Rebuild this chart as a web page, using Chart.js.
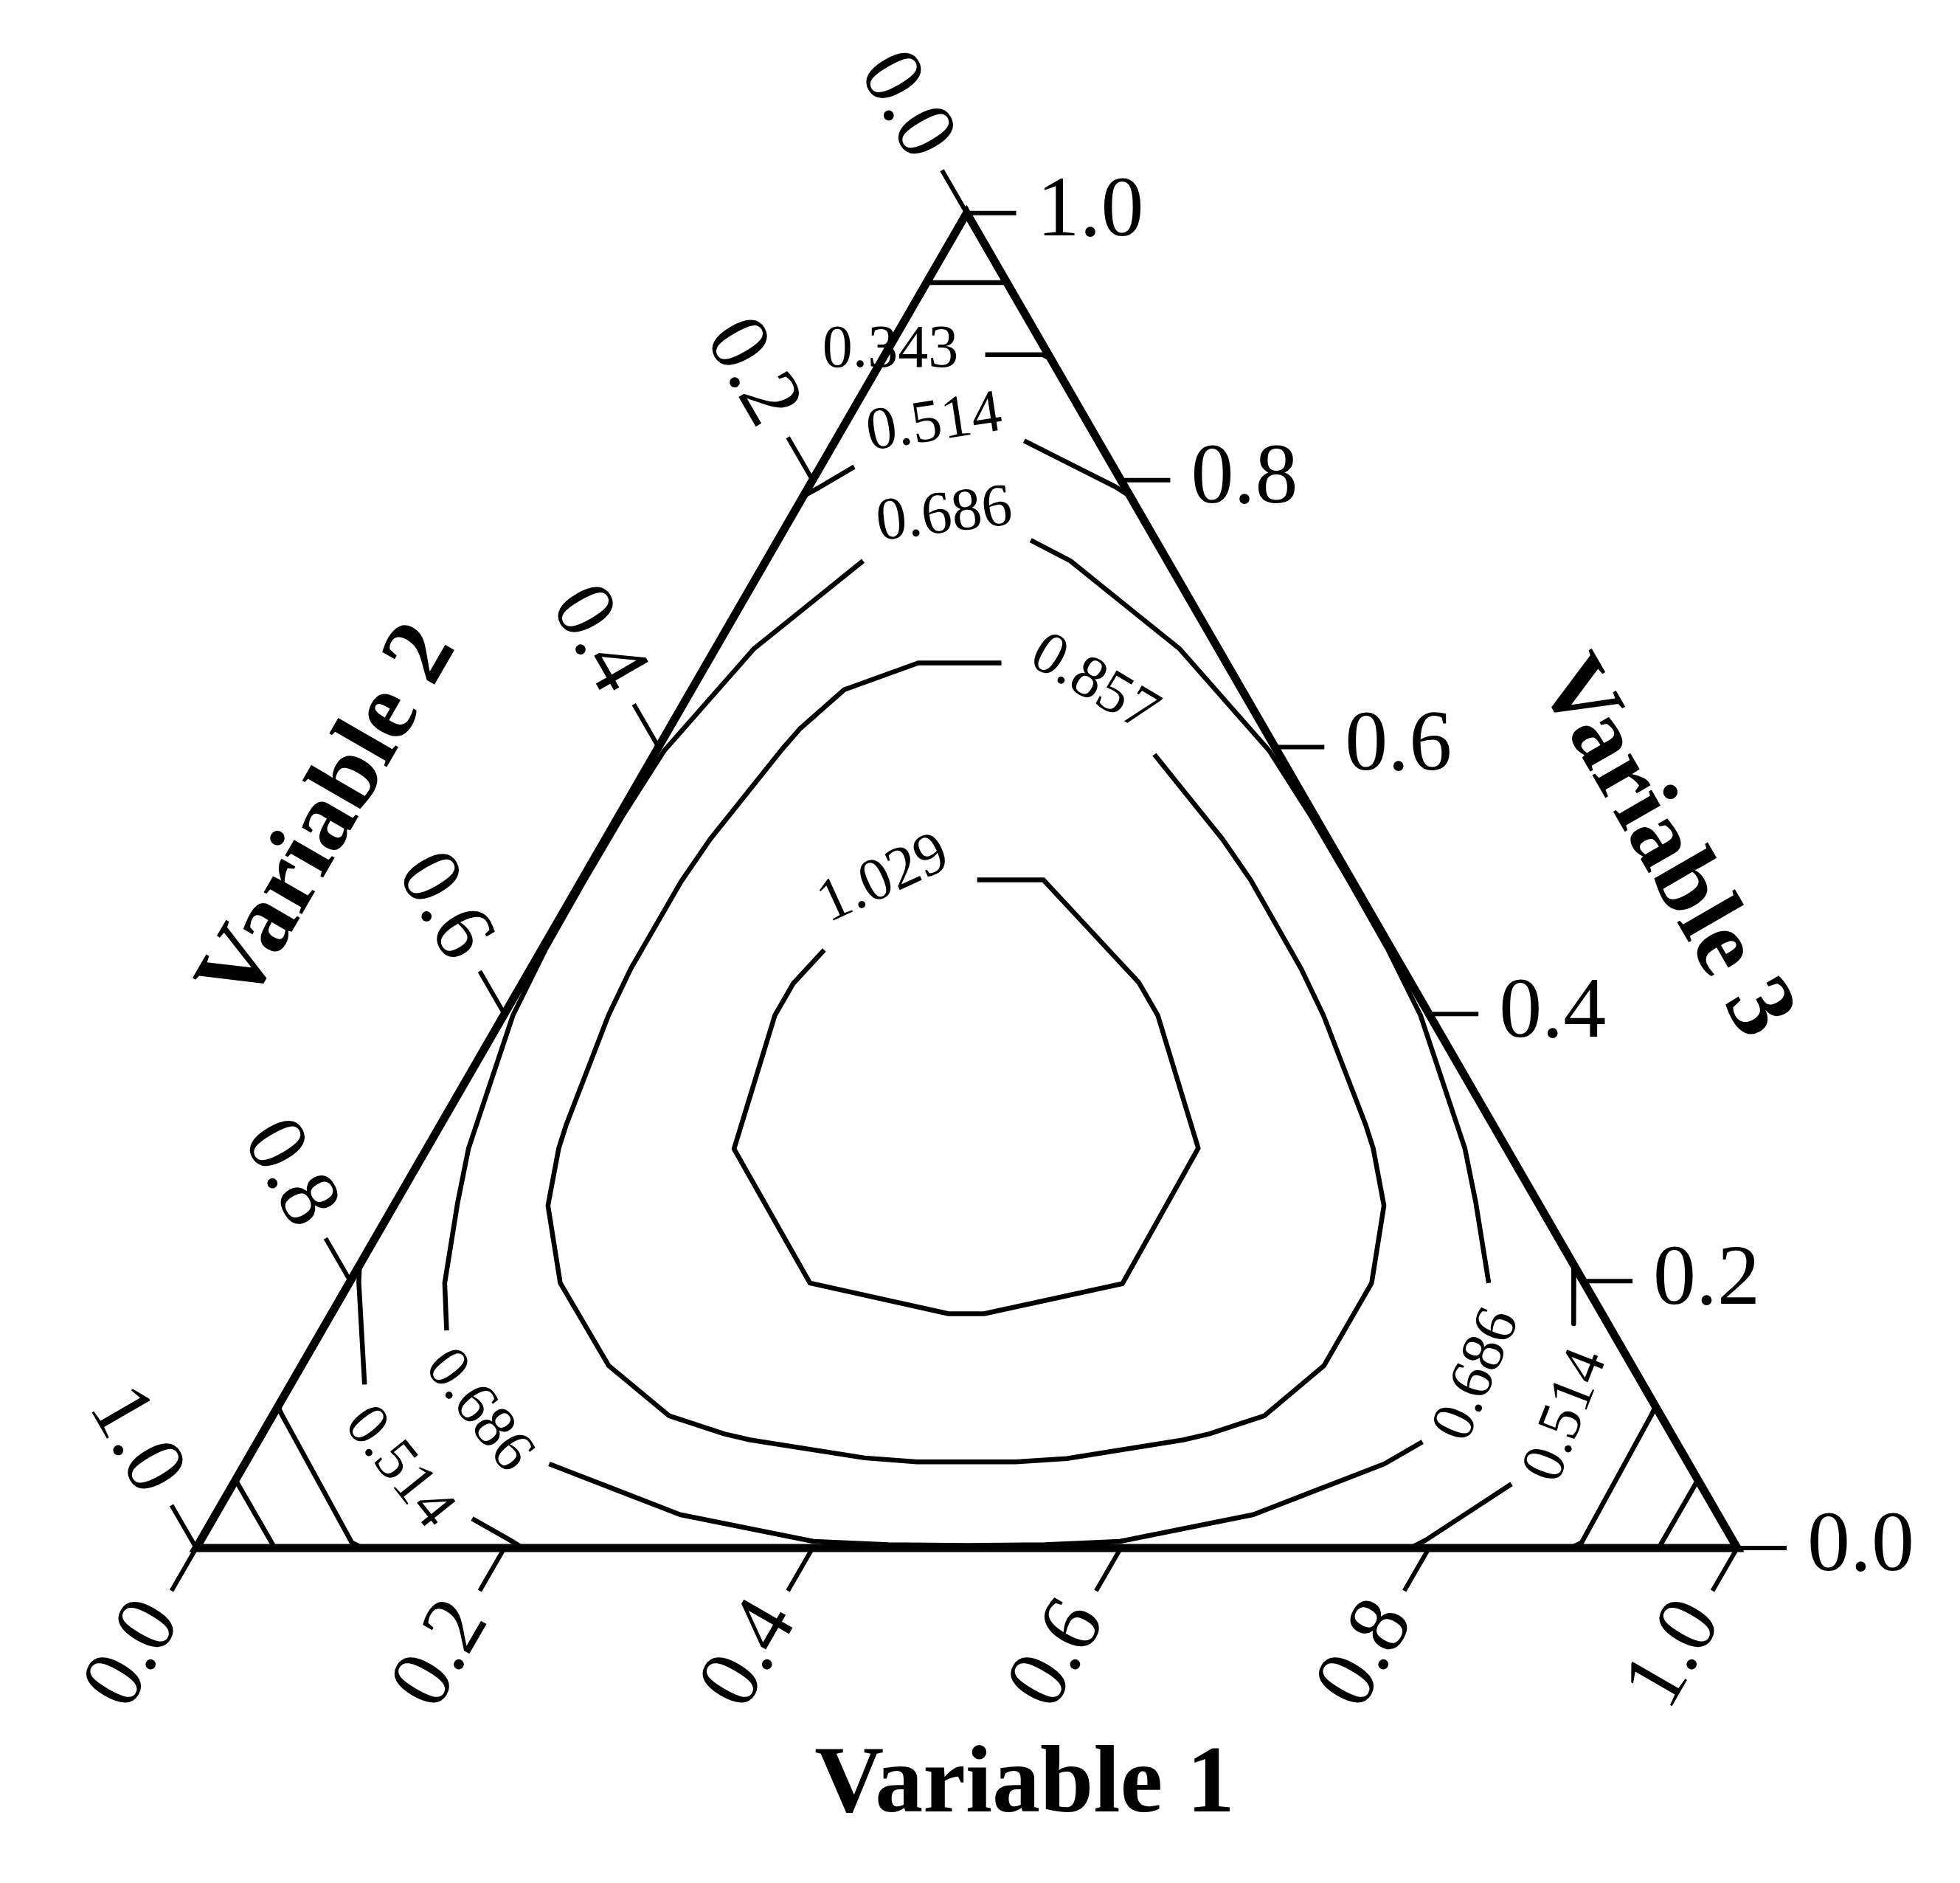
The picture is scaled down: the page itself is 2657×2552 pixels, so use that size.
<!DOCTYPE html>
<html>
<head>
<meta charset="utf-8">
<script src="https://cdn.jsdelivr.net/npm/chart.js@4.4.1/dist/chart.umd.min.js"></script>
<style>html,body{margin:0;padding:0;background:#fff}</style>
</head>
<body>
<canvas id="c" width="2657" height="2552" style="display:block;width:2657px;height:2552px"></canvas>
<script>
// ---------- DATA : ternary compositions [Variable 1, Variable 2, Variable 3] ----------
const tickValues = [0.0, 0.2, 0.4, 0.6, 0.8, 1.0];
const tickLabels = ['0.0', '0.2', '0.4', '0.6', '0.8', '1.0'];
const axisTitles = ['Variable 1', 'Variable 2', 'Variable 3'];
const triangleCorners = [[0, 1, 0], [1, 0, 0], [0, 0, 1]];
const contourLevels = ['0.171', '0.343', '0.514', '0.686', '0.857', '1.029'];

const contour0171 = [
  [[0, 0.052, 0.948], [0.052, 0, 0.948]],
  [[0, 0.949, 0.051], [0.051, 0.949, 0]],
  [[0.949, 0, 0.051], [0.949, 0.051, 0]]
];
const contour0343 = [
  [[0.065, 0.041, 0.894], [0.102, 0.004, 0.894], [0.109, 0, 0.891]],
  [[0, 0.894, 0.106], [0.006, 0.8945, 0.0995], [0.099, 0.897, 0.004], [0.108, 0.892, 0]],
  [[0.894, 0, 0.106], [0.8945, 0.006, 0.0995], [0.897, 0.099, 0.004], [0.892, 0.108, 0]]
];
const contour0514 = [
  [[0, 0.212, 0.788], [0.006, 0.2005, 0.7935], [0.022, 0.168, 0.810]],
  [[0.1225, 0.048, 0.8295], [0.199, 0.006, 0.795], [0.212, 0, 0.788]],
  [[0, 0.788, 0.212], [0.006, 0.795, 0.199], [0.048, 0.8295, 0.1225]],
  [[0.168, 0.810, 0.022], [0.2005, 0.7935, 0.006], [0.212, 0.788, 0]],
  [[0.788, 0, 0.212], [0.7935, 0.006, 0.2005], [0.810, 0.022, 0.168]],
  [[0.8295, 0.1225, 0.048], [0.795, 0.199, 0.006], [0.788, 0.212, 0]]
];
const contour0686 = [
  [[0.063, 0.1975, 0.7395], [0.040, 0.2605, 0.6995], [0.025, 0.3015, 0.6735], [0.005, 0.398, 0.597],
   [0.0025, 0.448, 0.5495], [0.002, 0.499, 0.499], [0.0025, 0.5495, 0.448], [0.006, 0.595, 0.399],
   [0.027, 0.6735, 0.2995], [0.040, 0.7005, 0.2595], [0.062, 0.7395, 0.1985], [0.081, 0.756, 0.163]],
  [[0.164, 0.081, 0.755], [0.1975, 0.063, 0.7395], [0.2605, 0.040, 0.6995], [0.3015, 0.025, 0.6735],
   [0.398, 0.005, 0.597], [0.448, 0.0025, 0.5495], [0.499, 0.002, 0.499], [0.5495, 0.0025, 0.448],
   [0.595, 0.006, 0.399], [0.6735, 0.027, 0.2995], [0.7005, 0.040, 0.2595], [0.7395, 0.062, 0.1985]],
  [[0.756, 0.1645, 0.0795], [0.7395, 0.1975, 0.063], [0.6995, 0.2605, 0.040], [0.6735, 0.3015, 0.025],
   [0.597, 0.398, 0.005], [0.5495, 0.448, 0.0025], [0.499, 0.499, 0.002], [0.448, 0.5495, 0.0025],
   [0.398, 0.597, 0.005], [0.3015, 0.6735, 0.025], [0.2605, 0.6995, 0.040], [0.1975, 0.7395, 0.063]]
];
const contour0857 = [
  [[0.3245, 0.081, 0.5945], [0.4005, 0.0685, 0.531], [0.434, 0.0655, 0.5005], [0.500, 0.066, 0.434],
   [0.532, 0.069, 0.399], [0.600, 0.0825, 0.3175], [0.614, 0.0865, 0.2995], [0.6425, 0.101, 0.2565],
   [0.6635, 0.138, 0.1985], [0.6635, 0.200, 0.1365], [0.6435, 0.2575, 0.099], [0.6145, 0.300, 0.0855],
   [0.600, 0.319, 0.081], [0.5315, 0.4015, 0.067], [0.4995, 0.436, 0.0645], [0.4355, 0.500, 0.0645],
   [0.400, 0.5325, 0.0675], [0.319, 0.600, 0.081], [0.300, 0.6145, 0.0855], [0.2575, 0.6435, 0.099],
   [0.1995, 0.664, 0.1365], [0.137, 0.6645, 0.1985], [0.100, 0.6435, 0.2565], [0.0855, 0.615, 0.2995],
   [0.0815, 0.601, 0.3175], [0.068, 0.533, 0.399], [0.065, 0.501, 0.434], [0.065, 0.4355, 0.4995],
   [0.068, 0.401, 0.531], [0.081, 0.3205, 0.5985], [0.085, 0.301, 0.614], [0.099, 0.258, 0.643],
   [0.137, 0.200, 0.663], [0.191, 0.146, 0.663]]
];
const contour1029 = [
  [[0.2565, 0.243, 0.5005], [0.2995, 0.200, 0.5005], [0.400, 0.1765, 0.4235], [0.4245, 0.1765, 0.399],
   [0.5005, 0.200, 0.2995], [0.502, 0.300, 0.198], [0.4235, 0.401, 0.1755], [0.4005, 0.424, 0.1755],
   [0.299, 0.5025, 0.1985], [0.1995, 0.5015, 0.299], [0.176, 0.425, 0.399], [0.176, 0.401, 0.423],
   [0.1835, 0.3685, 0.448]]
];
// label text, label centre, and the two contour ends bounding the label gap
const contourLabels = [
  ['0.343', [0.002, 0.101, 0.897], [0, 0.106, 0.894], [0.065, 0.041, 0.894]],
  ['0.514', [0.058, 0.100, 0.842], [0.022, 0.168, 0.810], [0.1225, 0.048, 0.8295]],
  ['0.514', [0.101, 0.839, 0.060], [0.048, 0.8295, 0.1225], [0.168, 0.810, 0.022]],
  ['0.514', [0.840, 0.061, 0.099], [0.810, 0.022, 0.168], [0.8295, 0.1225, 0.048]],
  ['0.686', [0.099, 0.128, 0.773], [0.063, 0.1975, 0.7395], [0.164, 0.081, 0.755]],
  ['0.686', [0.1315, 0.766, 0.1025], [0.081, 0.756, 0.163], [0.1975, 0.7395, 0.063]],
  ['0.686', [0.767, 0.1035, 0.1295], [0.7395, 0.062, 0.1985], [0.756, 0.1645, 0.0795]],
  ['0.857', [0.259, 0.094, 0.647], [0.191, 0.146, 0.663], [0.3245, 0.081, 0.5945]],
  ['1.029', [0.196, 0.3035, 0.5005], [0.1835, 0.3685, 0.448], [0.2565, 0.243, 0.5005]]
];

// ---------- projection ----------
const SQ = Math.sqrt(3) / 2;
function tern(p) { return { x: p[0] + p[2] / 2, y: p[2] * SQ }; }

const allContours = [contour0171, contour0343, contour0514, contour0686, contour0857, contour1029];

const datasets = [];
allContours.forEach((level, li) => {
  level.forEach(piece => {
    datasets.push({
      label: contourLevels[li],
      data: piece.map(tern),
      showLine: true, pointRadius: 0, borderColor: '#000', borderWidth: 6.5,
      borderJoinStyle: 'round', borderCapStyle: 'butt', fill: false, tension: 0, clip: false
    });
  });
});
datasets.push({
  label: 'frame',
  data: [...triangleCorners, triangleCorners[0], triangleCorners[1]].map(tern),
  showLine: true, pointRadius: 0, borderColor: '#000', borderWidth: 11,
  borderJoinStyle: 'miter', borderCapStyle: 'butt', fill: false, tension: 0, clip: false
});

const FONT = '"Liberation Serif", "Times New Roman", serif';

const decor = {
  id: 'decor',
  beforeDraw(chart) {
    const ctx = chart.ctx;
    ctx.save(); ctx.fillStyle = '#fff'; ctx.fillRect(0, 0, chart.width, chart.height); ctx.restore();
  },
  afterDatasetsDraw(chart) {
    const ctx = chart.ctx, xs = chart.scales.x, ys = chart.scales.y;
    const P = p => { const t = tern(p); return [xs.getPixelForValue(t.x), ys.getPixelForValue(t.y)]; };
    ctx.save();
    ctx.fillStyle = '#000'; ctx.strokeStyle = '#000';

    // ticks and tick labels
    const axes = [
      { pt: t => [t, 1 - t, 0], dir: [-0.5, SQ], rot: -Math.PI / 3, align: 'right' },
      { pt: t => [0, t, 1 - t], dir: [-0.5, -SQ], rot: Math.PI / 3, align: 'right' },
      { pt: t => [1 - t, 0, t], dir: [1, 0], rot: 0, align: 'left' }
    ];
    const TL = 67, GAP = 28;
    ctx.lineWidth = 6; ctx.lineCap = 'butt';
    ctx.font = '116px ' + FONT;
    ctx.textBaseline = 'middle';
    axes.forEach(ax => {
      tickValues.forEach((t, i) => {
        const [bx, by] = P(ax.pt(t));
        ctx.beginPath();
        ctx.moveTo(bx, by);
        ctx.lineTo(bx + ax.dir[0] * TL, by + ax.dir[1] * TL);
        ctx.stroke();
        const lx = bx + ax.dir[0] * (TL + GAP), ly = by + ax.dir[1] * (TL + GAP);
        ctx.save();
        ctx.translate(lx, ly); ctx.rotate(ax.rot);
        ctx.textAlign = ax.align;
        ctx.fillText(tickLabels[i], 0, 0);
        ctx.restore();
      });
    });

    // contour labels
    ctx.font = '82px ' + FONT;
    ctx.textAlign = 'center';
    contourLabels.forEach(([txt, at, a, b]) => {
      const [x, y] = P(at), [x1, y1] = P(a), [x2, y2] = P(b);
      let ang = Math.atan2(y2 - y1, x2 - x1);
      if (ang > Math.PI / 2) ang -= Math.PI;
      if (ang < -Math.PI / 2) ang += Math.PI;
      ctx.save(); ctx.translate(x, y); ctx.rotate(ang); ctx.fillText(txt, 0, 0); ctx.restore();
    });

    // axis titles
    ctx.font = 'bold 130px ' + FONT;
    const titles = [
      { p: [0.5376, 0.4624, 0], off: [0, 323], rot: 0 },
      { p: [0, 0.5453, 0.4547], off: [-SQ * 339, -0.5 * 339], rot: -Math.PI / 3 },
      { p: [0.583, 0, 0.417], off: [SQ * 387, -0.5 * 387], rot: Math.PI / 3 }
    ];
    titles.forEach((tt, i) => {
      const [x, y] = P(tt.p);
      ctx.save(); ctx.translate(x + tt.off[0], y + tt.off[1]); ctx.rotate(tt.rot);
      ctx.fillText(axisTitles[i], 0, 0); ctx.restore();
    });
    ctx.restore();
  }
};

new Chart(document.getElementById('c'), {
  type: 'scatter',
  data: { datasets },
  options: {
    responsive: false, animation: false, events: [],
    layout: { padding: 0 },
    plugins: { legend: { display: false }, tooltip: { enabled: false } },
    scales: {
      x: { type: 'linear', display: false, min: -266 / 2089, max: 2391 / 2089 },
      y: { type: 'linear', display: false, min: -454 / 2089, max: 2098 / 2089 }
    }
  },
  plugins: [decor]
});
</script>
</body>
</html>
